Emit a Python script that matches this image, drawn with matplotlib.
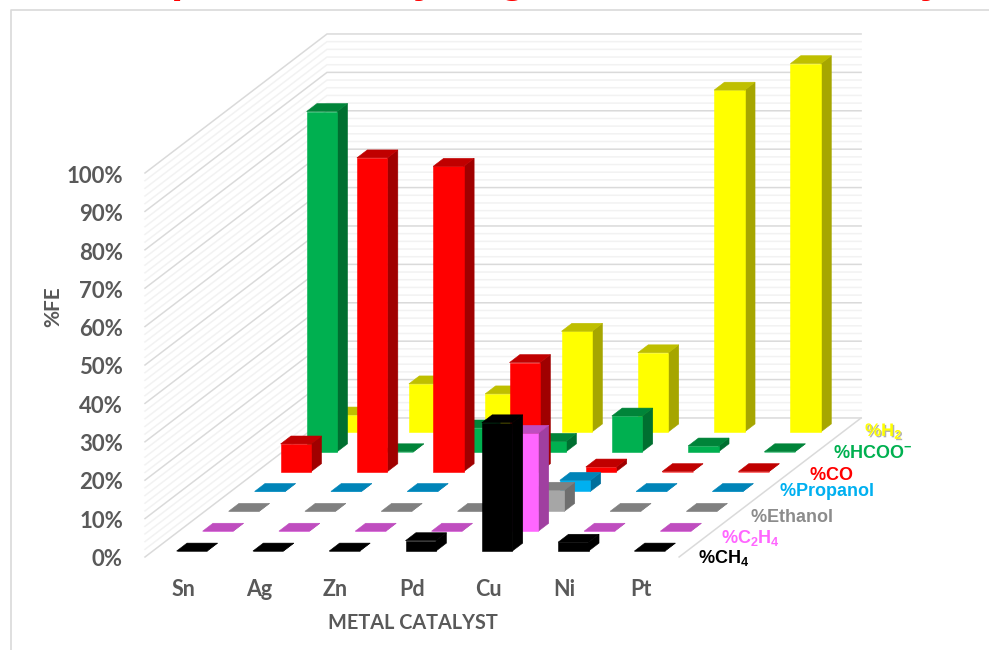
import numpy as np
import matplotlib
matplotlib.use("Agg")
import matplotlib.pyplot as plt
from matplotlib.patches import Polygon
import matplotlib.patheffects as pe

plt.rcParams['font.family'] = ['Lato', 'DejaVu Sans']
plt.rcParams['mathtext.fontset'] = 'custom'
plt.rcParams['mathtext.bf'] = 'Liberation Sans:bold'
plt.rcParams['mathtext.rm'] = 'Liberation Sans'

# --- data, %FE per catalyst ---
catalysts = ['Sn', 'Ag', 'Zn', 'Pd', 'Cu', 'Ni', 'Pt']
value_ticks = [0, 10, 20, 30, 40, 50, 60, 70, 80, 90, 100]

ch4 = [0, 0, 0, 2.7, 33.4, 2.3, 0]
c2h4 = [0, 0, 0, 0, 25.5, 0, 0]
ethanol = [0, 0, 0, 0, 5.5, 0, 0]
propanol = [0, 0, 0, 0, 2.9, 0, 0]
co = [7.2, 81.7, 79.5, 28.4, 1.2, 0, 0]
hcoo = [88.6, 0, 6.2, 2.7, 9.3, 1.5, 0]
h2 = [4.4, 12.5, 9.9, 26.2, 20.6, 89, 95.9]

# series run front to back
series = [ch4, c2h4, ethanol, propanol, co, hcoo, h2]
series_names = [r'$\mathbf{\%CH_4}$', r'$\mathbf{\%C_2H_4}$', r'$\mathbf{\%Ethanol}$',
                r'$\mathbf{\%Propanol}$', r'$\mathbf{\%CO}$', r'$\mathbf{\%HCOO^{-}}$', r'$\mathbf{\%H_2}$']

# front, top, side colours
front_cols = ['#000000', '#FF66FF', '#A6A6A6', '#00B0F0', '#FF0000', '#00B050', '#FFFF00']
top_cols = ['#000000', '#BF4DBF', '#808080', '#0084B8', '#C00000', '#008439', '#BFBF00']
side_cols = ['#000000', '#A03FA0', '#6E6E6E', '#006F9C', '#A00000', '#006F30', '#A6A600']
label_cols = ['#000000', '#FF66FF', '#8C8C8C', '#00B0F0', '#FF0000', '#00B050', '#FFFF00']
label_x = [698, 721, 750, 779, 809, 833, 865]
label_y = [558, 538, 516, 492, 475, 453, 431]

# oblique projection: category, series depth, value -> picture position
X0, Y0 = 145, 557
CAT_STEP = 76.3
ROW_DX, ROW_DY = 26.0, 19.86
VAL_STEP = 3.84
BAR_X0, BAR_X1 = 0.312, 0.712
BAR_D0, BAR_D1 = 0.3, 0.7


def project(cat, row, val):
    return (X0 + cat * CAT_STEP + row * ROW_DX, Y0 - row * ROW_DY - val * VAL_STEP)


def draw_bar(ax, cat, row, val):
    x0, x1 = cat + BAR_X0, cat + BAR_X1
    d0, d1 = row + BAR_D0, row + BAR_D1
    faces = [
        ([(x1, d0, 0), (x1, d1, 0), (x1, d1, val), (x1, d0, val)], side_cols[row]),
        ([(x0, d0, 0), (x1, d0, 0), (x1, d0, val), (x0, d0, val)], front_cols[row]),
        ([(x0, d0, val), (x1, d0, val), (x1, d1, val), (x0, d1, val)], top_cols[row]),
    ]
    for corners, col in faces:
        pts = [project(*c) for c in corners]
        ax.add_patch(Polygon(pts, closed=True, facecolor=col, edgecolor=col, linewidth=0.4))


fig = plt.figure(figsize=(9.89, 6.5), dpi=100)
ax = fig.add_axes([0, 0, 1, 1])
ax.set_xlim(0, 989)
ax.set_ylim(650, 0)
ax.axis('off')

# chart frame, only left and top survive
ax.plot([10.7, 10.7, 989], [650, 10, 10], color='#D9D9D9', lw=1.2)

# left and back walls
n_cat = len(catalysts)
n_row = len(series)
for v in range(0, 101, 2):
    major = v % 10 == 0
    col = '#DADADA' if major else '#F2F2F2'
    a = project(0, 0, v)
    b = project(0, n_row, v)
    c = project(n_cat, n_row, v)
    ax.plot([a[0], b[0], c[0]], [a[1], b[1], c[1]], color=col, lw=1.1, zorder=1,
            solid_joinstyle='miter')

# right floor edge
a = project(n_cat, 0, 0)
b = project(n_cat, n_row, 0)
ax.plot([a[0], b[0]], [a[1], b[1]], color='#DADADA', lw=1.1, zorder=1)

# back rows first so the front ones overlap them
for row in range(n_row - 1, -1, -1):
    for cat in range(n_cat):
        draw_bar(ax, cat, row, series[row][cat])

# axis text
for v in value_ticks:
    ax.text(123, 559.5 - v * 3.83, f'{v}%', ha='right', va='center', fontsize=16,
            fontweight='bold', color='#595959')
for i, name in enumerate(catalysts):
    ax.text(183 + i * 76.3, 590, name, ha='center', va='center', fontsize=15.5,
            fontweight='bold', color='#595959')
ax.text(53, 307, '%FE', rotation=90, ha='center', va='center', fontsize=15,
        fontweight='bold', color='#595959')
ax.text(413, 623, 'METAL CATALYST', ha='center', va='center', fontsize=14.3,
        fontweight='bold', color='#595959')

# series names along the floor edge
for i, name in enumerate(series_names):
    t = ax.text(label_x[i], label_y[i], name, ha='left', va='center', fontsize=13,
                color=label_cols[i])
    if i == n_row - 1:
        t.set_path_effects([pe.withSimplePatchShadow(offset=(1, -1), shadow_rgbFace='#808080', alpha=0.6)])

# tails of the heading letters cut by the top edge
for x, ch in zip([184, 425, 512, 932], ['p', 'y', 'g', 'y']):
    ax.text(x, -8, ch, ha='center', va='baseline', fontsize=32, fontweight='bold',
            family='Liberation Sans', color='#FF0000', clip_on=True)

fig.savefig('out.png', dpi=100)
